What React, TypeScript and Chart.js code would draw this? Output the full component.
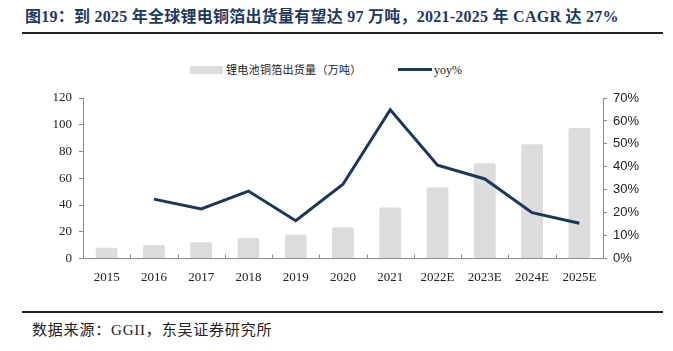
import React, { useEffect, useRef } from "react";
import { Chart, registerables } from "chart.js";

Chart.register(...registerables);

const categories = ["2015", "2016", "2017", "2018", "2019", "2020", "2021", "2022E", "2023E", "2024E", "2025E"];
const shipments = [8.1, 10.1, 12.1, 15.4, 17.8, 23.4, 38.1, 53.0, 71.3, 85.5, 97.6];
const yoy = [null, 25.9, 21.6, 29.4, 16.5, 32.4, 64.9, 40.7, 34.7, 20.0, 15.4];
const leftTicks = [0, 20, 40, 60, 80, 100, 120];
const rightTicks = [0, 10, 20, 30, 40, 50, 60, 70];

const barLabel = "锂电池铜箔出货量（万吨）";
const lineLabel = "yoy%";
const titleText = "图19：到 2025 年全球锂电铜箔出货量有望达 97 万吨，2021-2025 年 CAGR 达 27%";
const sourceText = "数据来源：GGII，东吴证券研究所";

const BAR_COLOR = "#dcdcdc";
const LINE_COLOR = "#1b375c";
const AXIS_COLOR = "#8c8c8c";
const SERIF = "'Liberation Serif', 'Times New Roman', 'Noto Sans CJK SC', serif";
const SANS = "'Liberation Sans', Arial, sans-serif";

const CANVAS_TOP = 80;
const CANVAS_H = 210;
const PLOT_BOTTOM = 258.5;

const innerTicks = {
  id: "innerTicks",
  afterDraw(chart: any) {
    const x = chart.scales.x;
    const ctx = chart.ctx;
    const bottom = chart.chartArea.bottom;
    ctx.save();
    ctx.strokeStyle = AXIS_COLOR;
    ctx.lineWidth = 1;
    const n = categories.length;
    for (let i = 0; i <= n; i++) {
      const px = Math.round(x.left + ((x.right - x.left) * i) / n) + 0.5;
      ctx.beginPath();
      ctx.moveTo(px, bottom);
      ctx.lineTo(px, bottom - 4);
      ctx.stroke();
    }
    ctx.restore();
  },
};

export default function App() {
  const ref = useRef<HTMLCanvasElement | null>(null);

  useEffect(() => {
    if (!ref.current) return;
    const chart = new Chart(ref.current, {
      type: "bar",
      data: {
        labels: categories,
        datasets: [
          {
            type: "line",
            label: lineLabel,
            data: yoy as any,
            yAxisID: "y1",
            borderColor: LINE_COLOR,
            backgroundColor: LINE_COLOR,
            borderWidth: 3,
            pointRadius: 0,
            tension: 0,
            order: 0,
          } as any,
          {
            type: "bar",
            label: barLabel,
            data: shipments,
            yAxisID: "y",
            backgroundColor: BAR_COLOR,
            borderRadius: 2,
            borderSkipped: "bottom",
            categoryPercentage: 1,
            barPercentage: 0.46,
            order: 1,
          } as any,
        ],
      },
      options: {
        animation: false,
        responsive: false,
        maintainAspectRatio: false,
        layout: { padding: { top: 18, left: 0, right: 0, bottom: 0 } },
        plugins: {
          legend: { display: false },
          tooltip: { enabled: false },
        },
        scales: {
          x: {
            offset: true,
            grid: { display: false, offset: true },
            border: { display: true, color: AXIS_COLOR, width: 1 },
            ticks: {
              color: "#222",
              font: { family: SERIF, size: 13 },
              padding: 3,
              maxRotation: 0,
              autoSkip: false,
            },
            afterFit(s: any) {
              s.height = CANVAS_TOP + CANVAS_H - PLOT_BOTTOM;
            },
          },
          y: {
            position: "left",
            min: 0,
            max: 120,
            afterBuildTicks(s: any) {
              s.ticks = leftTicks.map((v) => ({ value: v }));
            },
            grid: { drawOnChartArea: false, drawTicks: true, tickLength: 4, color: AXIS_COLOR },
            border: { display: true, color: AXIS_COLOR, width: 1 },
            ticks: {
              color: "#222",
              font: { family: SERIF, size: 13 },
              padding: 7,
            },
            afterFit(s: any) {
              s.width = 83;
            },
          },
          y1: {
            position: "right",
            min: 0,
            max: 70,
            afterBuildTicks(s: any) {
              s.ticks = rightTicks.map((v) => ({ value: v }));
            },
            grid: { drawOnChartArea: false, drawTicks: true, tickLength: 4, color: AXIS_COLOR },
            border: { display: true, color: AXIS_COLOR, width: 1 },
            ticks: {
              color: "#222",
              font: { family: SANS, size: 13 },
              padding: 6,
              callback: (v: any) => v + "%",
            },
            afterFit(s: any) {
              s.width = 673 - 603;
            },
          },
        },
      },
      plugins: [innerTicks],
    });
    return () => chart.destroy();
  }, []);

  return (
    <div
      style={{
        position: "fixed",
        left: 0,
        top: 0,
        width: 673,
        height: 351,
        background: "#fff",
        overflow: "hidden",
      }}
    >
      <div
        style={{
          position: "absolute",
          left: 25,
          top: 7,
          fontFamily: SERIF,
          fontWeight: "bold",
          fontSize: 16,
          letterSpacing: 0.25,
          color: "#1f3864",
          whiteSpace: "nowrap",
          lineHeight: "20px",
        }}
      >
        {titleText}
      </div>
      <div style={{ position: "absolute", left: 22, top: 32, width: 641, height: 2, background: "#222" }} />

      <div style={{ position: "absolute", left: 190, top: 66, width: 33, height: 8, background: BAR_COLOR, borderRadius: 1 }} />
      <div
        style={{
          position: "absolute",
          left: 226,
          top: 62,
          fontFamily: SERIF,
          fontSize: 11,
          letterSpacing: 0.3,
          color: "#222",
          whiteSpace: "nowrap",
          lineHeight: "16px",
        }}
      >
        {barLabel}
      </div>
      <div style={{ position: "absolute", left: 398, top: 68, width: 34, height: 3, background: LINE_COLOR }} />
      <div
        style={{
          position: "absolute",
          left: 434,
          top: 62,
          fontFamily: SERIF,
          fontSize: 12,
          color: "#222",
          whiteSpace: "nowrap",
          lineHeight: "16px",
        }}
      >
        {lineLabel}
      </div>

      <canvas
        ref={ref}
        width={673}
        height={CANVAS_H}
        style={{ position: "absolute", left: 0, top: CANVAS_TOP, width: 673, height: CANVAS_H }}
      />

      <div style={{ position: "absolute", left: 22, top: 311, width: 641, height: 2, background: "#222" }} />
      <div
        style={{
          position: "absolute",
          left: 32,
          top: 320,
          fontFamily: SERIF,
          fontSize: 15,
          letterSpacing: 0.8,
          color: "#222",
          whiteSpace: "nowrap",
          lineHeight: "20px",
        }}
      >
        {sourceText}
      </div>
    </div>
  );
}
